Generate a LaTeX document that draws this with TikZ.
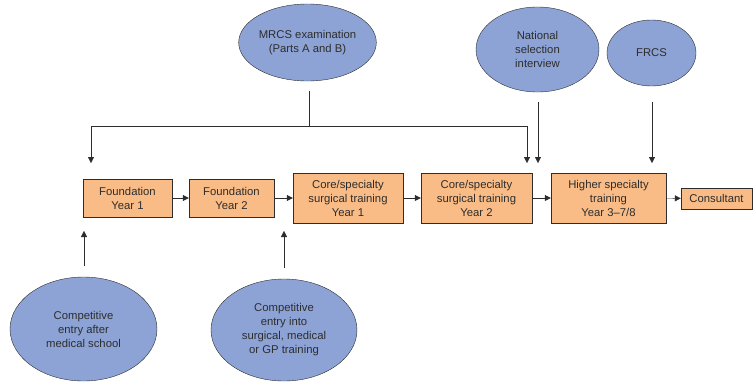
\documentclass[tikz,border=0pt]{standalone}
\usepackage{fontspec}
\setmainfont{Liberation Sans}
\usetikzlibrary{shapes.geometric,arrows.meta}
\definecolor{boxorange}{RGB}{249,188,134}
\definecolor{ellblue}{RGB}{141,163,213}
\definecolor{inkgray}{RGB}{45,45,45}

\tikzset{
  stage/.style={draw=inkgray,fill=boxorange,align=center,inner sep=1pt,
    text=inkgray,minimum height=38},
  exam/.style={ellipse,draw=inkgray,fill=ellblue,align=center,inner sep=0pt,
    text=inkgray},
  link/.style={->,draw=inkgray,thin}
}

\begin{document}
\begin{tikzpicture}[x=1pt,y=-1pt,>={Triangle[length=6pt,width=6pt]},
    font=\fontsize{11.3}{14}\selectfont]
  \useasboundingbox (0,0) rectangle (753,383);
  % training stages
  \node[stage,minimum width=89] (fy1) at (127.5,198) {Foundation\\Year 1};
  \node[stage,minimum width=85] (fy2) at (231.5,198) {Foundation\\Year 2};
  \node[stage,minimum width=110,minimum height=50] (ct1) at (348,198)
      {Core/specialty\\surgical training\\Year 1};
  \node[stage,minimum width=111,minimum height=50] (ct2) at (476.5,198)
      {Core/specialty\\surgical training\\Year 2};
  \node[stage,minimum width=115,minimum height=50] (hst) at (608.5,198)
      {Higher specialty\\training\\Year 3--7/8};
  \node[stage,minimum width=71,minimum height=21] (con) at (716.5,198.5) {Consultant};
  % exams and entry points
  \node[exam,minimum width=121,minimum height=77] (mrcs) at (307.5,42.5)
      {MRCS examination\\(Parts A and B)};
  \node[exam,minimum width=123,minimum height=85] (nsi) at (537.5,49.5)
      {National\\selection\\interview};
  \node[exam,minimum width=89,minimum height=66] (frcs) at (651.5,53) {FRCS};
  \node[exam,minimum width=147,minimum height=104] (ce1) at (83.5,329)
      {Competitive\\entry after\\medical school};
  \node[exam,minimum width=146,minimum height=102] (ce2) at (284,330)
      {Competitive\\entry into\\surgical, medical\\or GP training};
  % arrow ends
  \coordinate (split) at (309,126);
  \coordinate (fy1in) at (91,163);
  \coordinate (ct2in) at (527,163);
  \coordinate (nsiin) at (538,163);
  \coordinate (hstin) at (652,163);
  \coordinate (fy1up) at (84,231);
  \coordinate (ct1up) at (284,231);

  \draw[link] (fy1) -- (fy2);
  \draw[link] (fy2) -- (ct1);
  \draw[link] (ct1) -- (ct2);
  \draw[link] (ct2) -- (hst);
  \draw[link] (hst) -- (con);

  \draw[draw=inkgray,thin] ([yshift=-10pt]mrcs.south -| split) -- (split);
  \draw[link] (split) -| (fy1in);
  \draw[link] (split) -| (ct2in);
  \draw[link] ([yshift=-10pt]nsi.south -| nsiin) -- (nsiin);
  \draw[link] ([yshift=-16pt]frcs.south -| hstin) -- (hstin);
  \draw[link] ([yshift=11pt]ce1.north -| fy1up) -- (fy1up);
  \draw[link] ([yshift=11pt]ce2.north -| ct1up) -- (ct1up);
\end{tikzpicture}
\end{document}
